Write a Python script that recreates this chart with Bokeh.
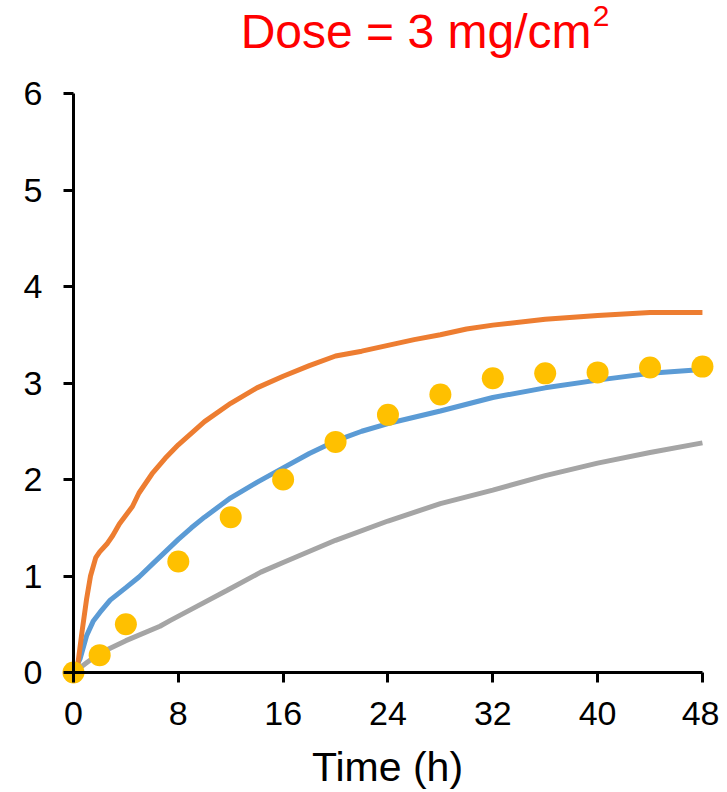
from bokeh.plotting import figure
from bokeh.models import FixedTicker, LinearAxis, Range1d, Label
from bokeh.embed import file_html
from bokeh.resources import INLINE

# ---- data ----
x_ticks = [0, 8, 16, 24, 32, 40, 48]
y_ticks = [0, 1, 2, 3, 4, 5, 6]

orange_t = [0, 0.3, 0.65, 1.0, 1.3, 1.7, 2.0, 2.6, 3.0, 3.5, 4.0, 4.5, 5.0, 6.0, 7.0, 8.0, 10, 12, 14, 16, 18, 20, 22, 24, 26, 28, 30, 32, 36, 40, 44, 48]
orange_y = [0, 0.05, 0.42, 0.76, 1.0, 1.19, 1.25, 1.34, 1.42, 1.54, 1.63, 1.72, 1.86, 2.06, 2.22, 2.36, 2.6, 2.79, 2.95, 3.07, 3.18, 3.28, 3.33, 3.39, 3.45, 3.5, 3.56, 3.6, 3.66, 3.7, 3.73, 3.73]

blue_t = [0, 0.5, 1.0, 1.5, 2.0, 2.8, 4, 5, 6, 7, 8, 9, 10, 12, 14, 16, 18, 20, 22, 24, 28, 32, 36, 40, 44, 48]
blue_y = [0, 0.14, 0.38, 0.53, 0.62, 0.75, 0.88, 0.99, 1.12, 1.25, 1.38, 1.5, 1.61, 1.81, 1.97, 2.12, 2.27, 2.4, 2.5, 2.58, 2.71, 2.85, 2.95, 3.03, 3.1, 3.14]

gray_t = [0, 0.5, 1, 2, 4, 6.6, 7.4, 9.2, 11.7, 14.3, 16, 20, 24, 28, 32, 36, 40, 44, 48]
gray_y = [0, 0.05, 0.1, 0.2, 0.33, 0.48, 0.54, 0.67, 0.85, 1.04, 1.14, 1.37, 1.57, 1.75, 1.89, 2.04, 2.17, 2.28, 2.38]

obs_t = [0, 2, 4, 8, 12, 16, 20, 24, 28, 32, 36, 40, 44, 48]
obs_y = [0, 0.18, 0.50, 1.15, 1.61, 2.00, 2.39, 2.67, 2.88, 3.05, 3.10, 3.11, 3.16, 3.17]

title_main = "Dose = 3 mg/cm"
title_sup = "2"
x_title = "Time (h)"

FONT = "Liberation Sans"

p = figure(frame_width=654, frame_height=686,
           x_range=Range1d(-0.99, 48.92), y_range=Range1d(-0.145, 6.964),
           output_backend="svg", toolbar_location=None,
           x_axis_location=None, y_axis_location=None,
           min_border_left=60, min_border_right=5,
           min_border_top=0, min_border_bottom=98)
p.xgrid.visible = False
p.ygrid.visible = False
p.outline_line_color = None
p.background_fill_color = "white"


def line_axis(ax):
    ax.axis_line_width = 3
    ax.axis_line_color = "black"
    ax.major_tick_line_width = 3
    ax.major_tick_line_color = "black"
    ax.major_tick_out = 10
    ax.major_tick_in = 0
    ax.minor_tick_out = 0
    ax.minor_tick_in = 0


def label_axis(ax, standoff):
    ax.axis_line_color = None
    ax.major_tick_line_color = None
    ax.minor_tick_line_color = None
    ax.major_tick_out = 0
    ax.major_tick_in = 0
    ax.minor_tick_out = 0
    ax.minor_tick_in = 0
    ax.major_label_text_font = FONT
    ax.major_label_text_font_size = "34px"
    ax.major_label_text_color = "black"
    ax.major_label_standoff = standoff


# axis lines and ticks, drawn through data zero
xline = LinearAxis(fixed_location=0, bounds=(0, 48), ticker=FixedTicker(ticks=x_ticks))
line_axis(xline)
p.add_layout(xline, "below")
yline = LinearAxis(fixed_location=0, bounds=(0, 6), ticker=FixedTicker(ticks=y_ticks))
line_axis(yline)
p.add_layout(yline, "left")

# axes carrying the tick labels and the axis title
xlab = LinearAxis(ticker=FixedTicker(ticks=x_ticks))
label_axis(xlab, 15)
xlab.axis_label = x_title
xlab.axis_label_text_font = FONT
xlab.axis_label_text_font_size = "41px"
xlab.axis_label_text_font_style = "normal"
xlab.axis_label_text_color = "black"
xlab.axis_label_standoff = 16
p.add_layout(xlab, "below")

ylab = LinearAxis(ticker=FixedTicker(ticks=y_ticks))
label_axis(ylab, 18)
p.add_layout(ylab, "left")

p.line(gray_t, gray_y, line_color="#A5A5A5", line_width=5)
p.line(blue_t, blue_y, line_color="#5B9BD5", line_width=5)
p.line(orange_t, orange_y, line_color="#ED7D31", line_width=5)
p.scatter(obs_t, obs_y, size=22, fill_color="#FFC000", line_color=None)

p.add_layout(Label(x=39.53, y=6.643, text=title_main, text_align="right",
                   text_baseline="alphabetic", text_font=FONT,
                   text_font_size="48px", text_color="#FF0000"))
p.add_layout(Label(x=39.62, y=6.80, text=title_sup, text_align="left",
                   text_baseline="alphabetic", text_font=FONT,
                   text_font_size="30px", text_color="#FF0000"))

open("out.html", "w").write(file_html(p, INLINE))
